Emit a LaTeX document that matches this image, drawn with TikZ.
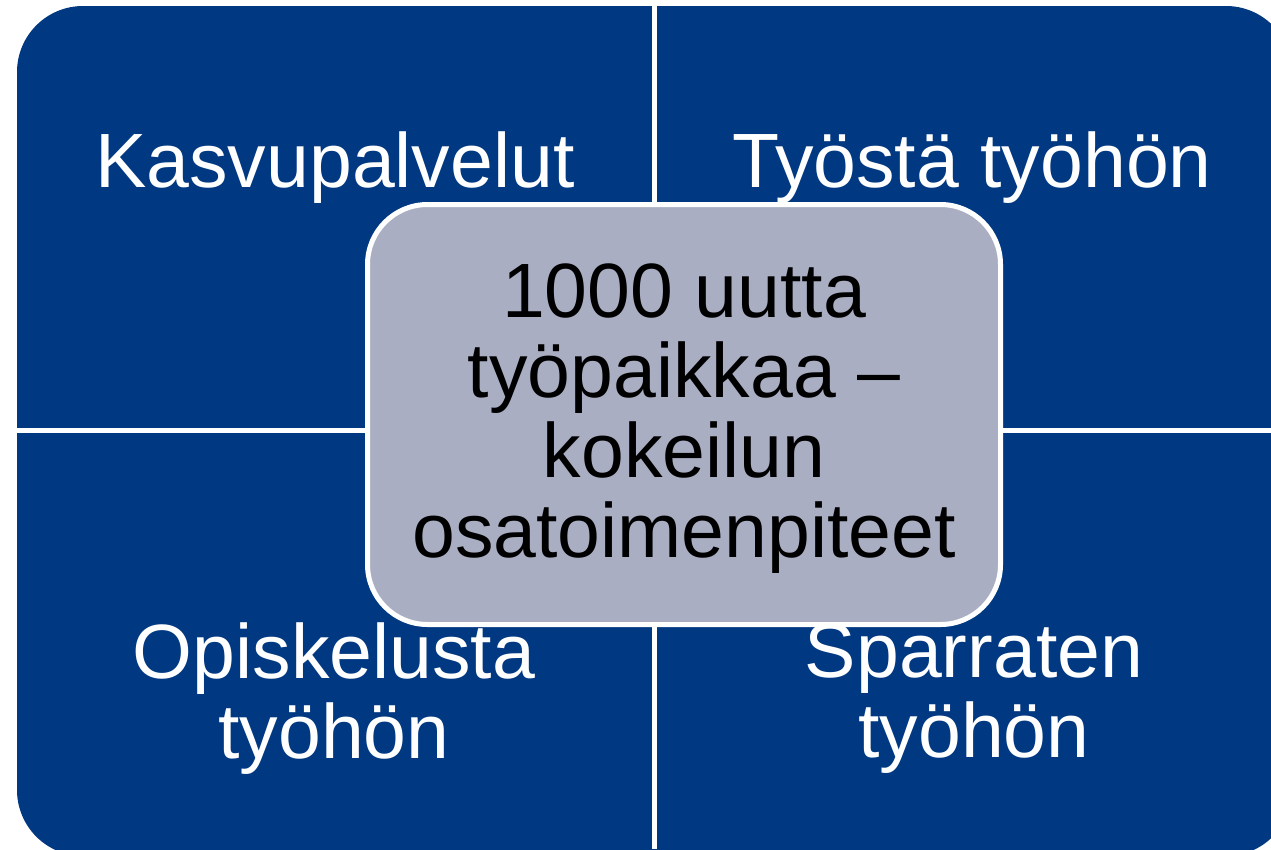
\documentclass[tikz,border=0pt]{standalone}
\usepackage{fontspec}
\setmainfont{Liberation Sans}
\definecolor{qblue}{RGB}{0,56,130}
\definecolor{cgrey}{RGB}{169,174,195}
\begin{document}
\begin{tikzpicture}[x=1pt,y=-1pt,
  quad/.style={fill=qblue},
  gap/.style={draw=white,line width=5pt},
  qtext/.style={text=white,align=center,inner sep=0pt,font=\fontsize{77}{80}\selectfont},
  ctext/.style={text=black,align=center,inner sep=0pt,font=\fontsize{77}{80}\selectfont},
  cbox/.style={draw=white,line width=5pt,fill=cgrey,rounded corners=60pt,inner sep=0pt}]
\useasboundingbox (0,0) rectangle (1271,849);
\clip (0,0) rectangle (1271,849);
\fill[quad,rounded corners=66pt] (17,6) rectangle (1292,856);
\draw[gap] (654.5,0) -- (654.5,849);
\draw[gap] (0,430.5) -- (1271,430.5);
\node[qtext,anchor=base] (q1) at (335,187) {Kasvupalvelut};
\node[qtext,anchor=base] (q2) at (972,187) {Työstä työhön};
\node[qtext] (q3) at (334,698.5) {Opiskelusta\\työhön};
\node[qtext] (q4) at (974,698.5) {Sparraten\\työhön};
\node[cbox,minimum width=633pt,minimum height=420pt] (c) at (684,414.5) {};
\node[ctext] (ct) at (684,418.5) {1000 uutta\\työpaikkaa –\\kokeilun\\osatoimenpiteet};
\end{tikzpicture}
\end{document}
